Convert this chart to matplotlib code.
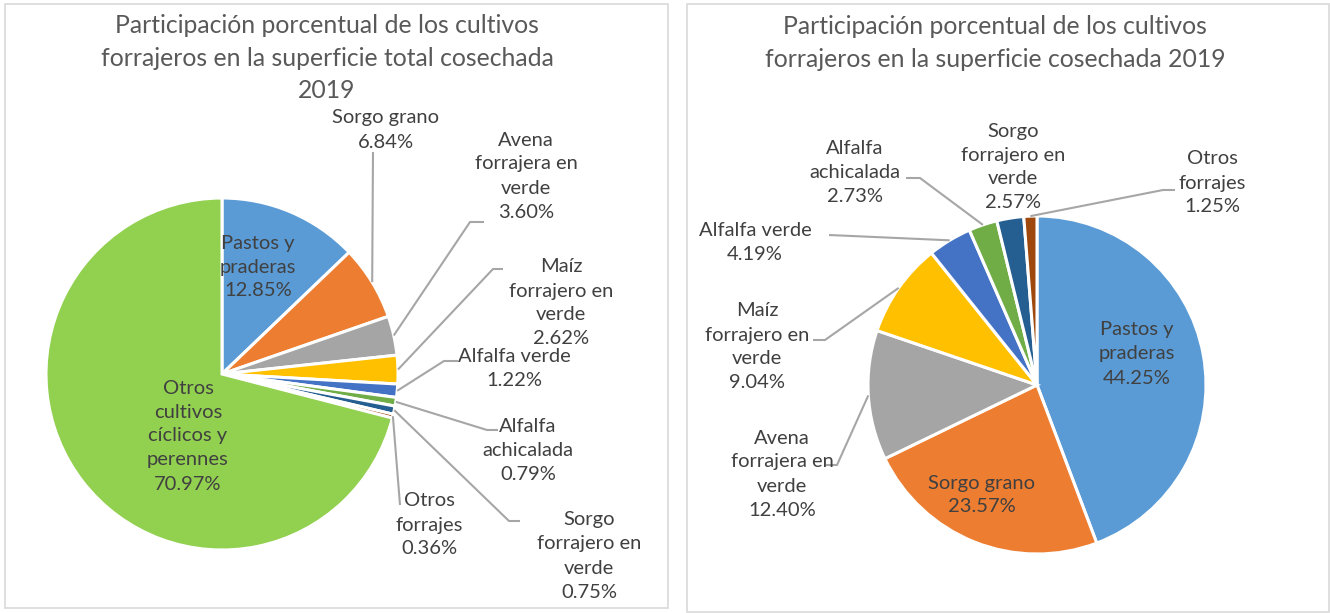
import numpy as np
import matplotlib
matplotlib.use("Agg")
import matplotlib.pyplot as plt
from matplotlib.patches import Rectangle

plt.rcParams['font.family'] = ['Lato', 'DejaVu Sans']

# ---------------- data ----------------
left_title = "Participación porcentual de los cultivos\nforrajeros en la superficie total cosechada\n2019"
left_labels = ["Pastos y\npraderas", "Sorgo grano", "Avena\nforrajera en\nverde", "Maíz\nforrajero en\nverde",
               "Alfalfa verde", "Alfalfa\nachicalada", "Sorgo\nforrajero en\nverde", "Otros\nforrajes",
               "Otros\ncultivos\ncíclicos y\nperennes"]
left_values = [12.85, 6.84, 3.60, 2.62, 1.22, 0.79, 0.75, 0.36, 70.97]

right_title = "Participación porcentual de los cultivos\nforrajeros en la superficie cosechada 2019"
right_labels = ["Pastos y\npraderas", "Sorgo grano", "Avena\nforrajera en\nverde", "Maíz\nforrajero en\nverde",
                "Alfalfa verde", "Alfalfa\nachicalada", "Sorgo\nforrajero en\nverde", "Otros\nforrajes"]
right_values = [44.25, 23.57, 12.40, 9.04, 4.19, 2.73, 2.57, 1.25]

left_colors = ["#5B9BD5", "#ED7D31", "#A5A5A5", "#FFC000", "#4472C4", "#70AD47", "#255E91", "#9E480E", "#92D050"]
right_colors = ["#5B9BD5", "#ED7D31", "#A5A5A5", "#FFC000", "#4472C4", "#70AD47", "#255E91", "#9E480E"]

# ---------------- layout (pixel coords, y from top) ----------------
W, H = 1330, 613
fig = plt.figure(figsize=(W / 100, H / 100), dpi=100)
ax = fig.add_axes([0, 0, 1, 1])

def P(x, y):
    return (x, H - y)

TXT = "#404040"
LINE = "#A6A6A6"
FS = 14.5

def draw_pie(values, colors, cx, cy, r, label_pos, leaders, labels):
    ax.pie(values, colors=colors, startangle=90, counterclock=False,
           center=P(cx, cy), radius=r,
           wedgeprops=dict(edgecolor="white", linewidth=2.2, antialiased=True))
    total = float(sum(values))
    cum = np.cumsum([0] + list(values))
    for i, (lab, v) in enumerate(zip(labels, values)):
        mid = (cum[i] + v / 2) / total
        ang = np.deg2rad(90 - 360 * mid)
        if leaders[i] is not None:
            sx, sy = cx + r * np.cos(ang), cy - r * np.sin(ang)
            pts = [(sx, sy)] + list(leaders[i])
            xs = [p[0] for p in pts]
            ys = [H - p[1] for p in pts]
            ax.plot(xs, ys, color=LINE, lw=1.5, solid_capstyle="butt", zorder=3)
        tx, ty = label_pos[i]
        ax.text(*P(tx, ty), f"{lab}\n{v:.2f}%", ha="center", va="center",
                fontsize=FS, color=TXT, linespacing=1.5, zorder=4)

# panel borders
ax.add_patch(Rectangle(P(4.5, 608), 663, 604, fill=False, edgecolor="#D9D9D9", lw=1.2, zorder=0))
ax.add_patch(Rectangle(P(686.5, 612), 642, 608, fill=False, edgecolor="#D9D9D9", lw=1.2, zorder=0))

# left pie
left_pos = [(258, 267), (386, 130), (526, 176), (561, 303), (514, 369), (528, 450),
            (589, 556), (429, 525), (188, 436)]
left_lead = [None, [(373, 152)], [(470, 222), (484, 222)], [(493, 269), (503, 269)],
             [(444, 361), (458, 361)], [(487, 430), (498, 430)], [(509, 521), (520, 521)],
             [(400, 505)], None]
draw_pie(left_values, left_colors, 222, 374, 176, left_pos, left_lead, left_labels)

# right pie
right_pos = [(1137, 354), (982, 495), (782, 474), (757, 347), (755, 242), (855, 172),
             (1013, 167), (1212, 183)]
right_lead = [None, None, [(837, 465), (826, 465)], [(825, 340), (813, 340)],
              [(829, 235)], [(920, 178), (906, 178)], None, [(1163, 190), (1175, 190)]]
draw_pie(right_values, right_colors, 1037, 385, 169, right_pos, right_lead, right_labels)

# titles
ax.text(*P(327, 58), left_title, ha="center", va="center", fontsize=17.8, color="#595959", linespacing=1.48)
ax.text(*P(995, 43), right_title, ha="center", va="center", fontsize=17.8, color="#595959", linespacing=1.48)

ax.set_xlim(0, W)
ax.set_ylim(0, H)
ax.set_aspect("auto")
ax.axis("off")

fig.savefig("out.png", dpi=100, facecolor="white")
